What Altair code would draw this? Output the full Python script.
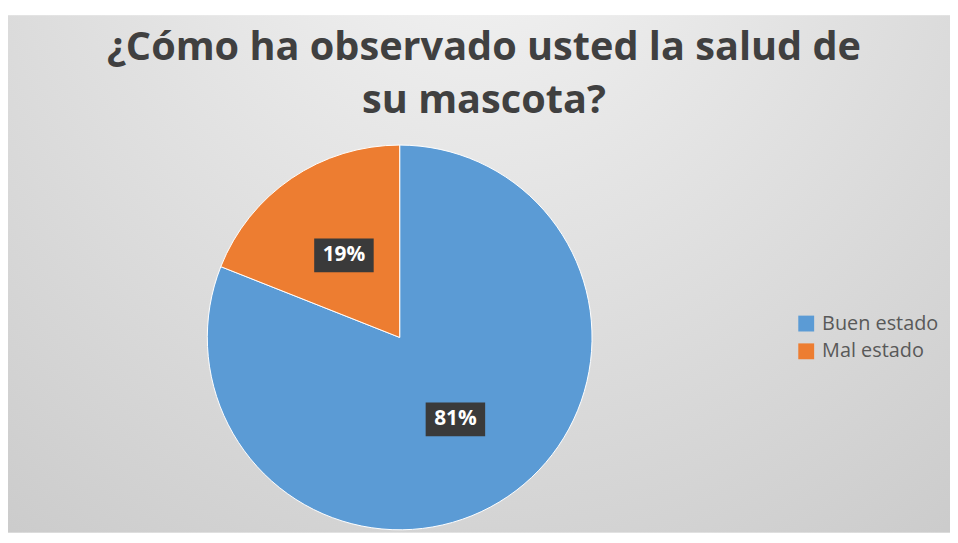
import altair as alt
import pandas as pd

# ---- data ----
categories = ["Buen estado", "Mal estado"]
values = [81, 19]
label_texts = ["81%", "19%"]
colors = ["#5B9BD5", "#ED7D31"]
title_lines = ["¿Cómo ha observado usted la salud de", "su mascota?"]

df = pd.DataFrame({"cat": categories, "val": values, "lbl": label_texts})

W, H = 950, 527
CX, CY, R = 395, 330, 194
RL = 100
BW, BH = 60, 34

bg = alt.Chart(pd.DataFrame({"k": [0]})).mark_rect(
    fill={
        "gradient": "radial",
        "x1": 0.5, "y1": 0.1, "r1": 0,
        "x2": 0.5, "y2": 0.1, "r2": 1.0,
        "stops": [
            {"offset": 0, "color": "#f4f4f4"},
            {"offset": 1, "color": "#c4c4c4"},
        ],
    }
).encode(x=alt.value(-1), x2=alt.value(W), y=alt.value(5), y2=alt.value(H))

pie = alt.Chart(df).mark_arc(outerRadius=R, stroke="white", strokeWidth=1).encode(
    theta=alt.Theta("val:Q", stack=True),
    color=alt.Color(
        "cat:N",
        scale=alt.Scale(domain=categories, range=colors),
        legend=alt.Legend(
            title=None, orient="none", legendX=795, legendY=306,
            symbolType="square", symbolSize=256, symbolStrokeWidth=0,
            labelFontSize=20, labelFont="Open Sans", labelColor="#595959",
            rowPadding=8, padding=0, labelOffset=6,
        ),
    ),
    order=alt.Order("cat:N"),
    x=alt.value(CX),
    y=alt.value(CY),
)

lab = (
    alt.Chart(df)
    .transform_joinaggregate(total="sum(val)")
    .transform_window(cum="sum(val)", sort=[alt.SortField("cat")], frame=[None, 0])
    .transform_calculate(mid="(datum.cum - datum.val/2)/datum.total*2*PI")
    .transform_calculate(
        px=f"{CX} + {RL}*sin(datum.mid)",
        py=f"{CY} - {RL}*cos(datum.mid)",
    )
    .transform_calculate(
        bx1=f"datum.px - {BW/2}", bx2=f"datum.px + {BW/2}",
        by1=f"datum.py - {BH/2}", by2=f"datum.py + {BH/2}",
    )
)

box = lab.mark_rect(color="#3a3a3a").encode(
    x=alt.X("bx1:Q", scale=None, axis=None),
    x2="bx2:Q",
    y=alt.Y("by1:Q", scale=None, axis=None),
    y2="by2:Q",
)

txt = lab.mark_text(color="white", fontSize=21, fontWeight="bold", font="Open Sans",
                    align="center", baseline="middle").encode(
    x=alt.X("px:Q", scale=None, axis=None),
    y=alt.Y("py:Q", scale=None, axis=None),
    text="lbl:N",
)

title = alt.Chart(pd.DataFrame({"t": [0]})).mark_text(
    text=title_lines, fontSize=40, font="Open Sans", fontWeight="bold",
    color="#404040", lineHeight=54, align="center", baseline="alphabetic",
).encode(x=alt.value(480), y=alt.value(50))

chart = alt.layer(bg, pie, box, txt, title).properties(
    width=W, height=H, padding=0, autosize="none", background="white"
).configure_view(stroke=None)

chart.save("out.html", embed_options={"renderer": "svg", "actions": False})
